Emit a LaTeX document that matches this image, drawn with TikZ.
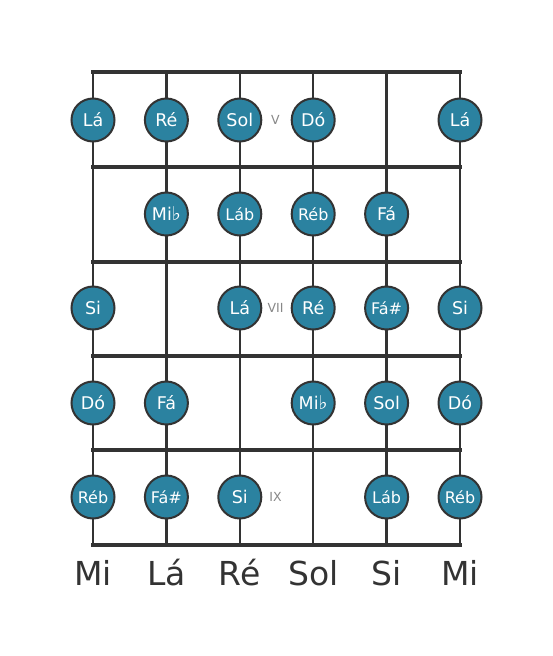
\documentclass[tikz,border=0pt]{standalone}
\usepackage{fontspec}
\setmainfont{DejaVu Sans}
\definecolor{notefill}{RGB}{43,130,160}
\definecolor{lineclr}{RGB}{51,51,51}
\definecolor{fretlbl}{RGB}{136,136,136}
\newcommand{\flatsign}{{\fontsize{19}{19}\selectfont ♭}}
\begin{document}
\begin{tikzpicture}[x=1pt,y=-1pt,
  stringline/.style={draw=lineclr,line width=2.5pt},
  fretline/.style={draw=lineclr,line width=4.5pt},
  note/.style={circle,fill=notefill,draw=lineclr,line width=2pt,minimum size=43pt,inner sep=0pt,text=white,font=\fontsize{17.5}{17.5}\selectfont},
  notesm/.style={note,font=\fontsize{16}{16}\selectfont},
  fretnum/.style={text=fretlbl,font=\fontsize{12.5}{12.5}\selectfont,inner sep=0pt},
  strname/.style={text=lineclr,font=\fontsize{33}{33}\selectfont,inner sep=0pt,anchor=base}]
\useasboundingbox[fill=white] (0,0) rectangle (553,656);
% string coordinates
\foreach \i/\x in {1/93,2/166.4,3/239.8,4/313.2,5/386.6,6/460}{
  \coordinate (t\i) at (\x,72);
  \coordinate (b\i) at (\x,545);
}
\foreach \i in {1,...,6}{\draw[stringline] (t\i) -- (b\i);}
% frets
\foreach \j/\y in {0/72,1/167,2/262,3/356,4/450,5/545}{
  \coordinate (fl\j) at (93,\y);
  \coordinate (fr\j) at (460,\y);
  \draw[fretline,line cap=rect] (fl\j) -- (fr\j);
}
% fret 1 (y=120)
\node[note] (n11) at (93,120) {Lá};
\node[note] (n12) at (166.4,120) {Ré};
\node[note] (n13) at (239.8,120) {Sol};
\node[note] (n14) at (313.2,120) {Dó};
\node[note] (n16) at (460,120) {Lá};
% fret 2 (y=214)
\node[note] (n22) at (166.4,214) {Mi\flatsign};
\node[notesm] (n23) at (239.8,214) {Láb};
\node[notesm] (n24) at (313.2,214) {Réb};
\node[note] (n25) at (386.6,214) {Fá};
% fret 3 (y=308)
\node[note] (n31) at (93,308) {Si};
\node[note] (n33) at (239.8,308) {Lá};
\node[note] (n34) at (313.2,308) {Ré};
\node[notesm] (n35) at (386.6,308) {Fá\#};
\node[note] (n36) at (460,308) {Si};
% fret 4 (y=403)
\node[note] (n41) at (93,403) {Dó};
\node[note] (n42) at (166.4,403) {Fá};
\node[note] (n44) at (313.2,403) {Mi\flatsign};
\node[note] (n45) at (386.6,403) {Sol};
\node[note] (n46) at (460,403) {Dó};
% fret 5 (y=497)
\node[notesm] (n51) at (93,497) {Réb};
\node[notesm] (n52) at (166.4,497) {Fá\#};
\node[note] (n53) at (239.8,497) {Si};
\node[notesm] (n55) at (386.6,497) {Láb};
\node[notesm] (n56) at (460,497) {Réb};
% fret numbers
\node[fretnum] (fv) at (275.5,120) {V};
\node[fretnum] (fvii) at (275.5,308) {VII};
\node[fretnum] (fix) at (275.5,497) {IX};
% string names
\node[strname] (s1) at (93,585) {Mi};
\node[strname] (s2) at (166.4,585) {Lá};
\node[strname] (s3) at (239.8,585) {Ré};
\node[strname] (s4) at (313.2,585) {Sol};
\node[strname] (s5) at (386.6,585) {Si};
\node[strname] (s6) at (460,585) {Mi};
\end{tikzpicture}
\end{document}
